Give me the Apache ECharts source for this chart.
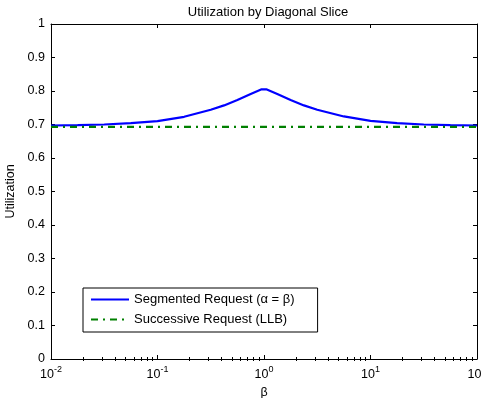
<!DOCTYPE html>
<html>
<head>
<meta charset="utf-8">
<script src="https://cdn.jsdelivr.net/npm/echarts@6/dist/echarts.min.js"></script>
<style>
html,body{margin:0;padding:0;background:#fff;}
#chart{width:482px;height:398px;}
</style>
</head>
<body>
<div id="chart"></div>
<script>
// ---- data ----
const titleText = 'Utilization by Diagonal Slice';
const xName = 'β';
const yName = 'Utilization';
const seriesNames = ['Segmented Request (α = β)', 'Successive Request (LLB)'];
const beta = [0.01, 0.0178, 0.0316, 0.0562, 0.1, 0.1778, 0.3162, 0.4217, 0.5623, 0.75, 0.95,
              1.05, 1.333, 1.778, 2.371, 3.162, 5.623, 10, 17.78, 31.62, 56.23, 100];
const segmented = [0.697, 0.698, 0.700, 0.704, 0.710, 0.723, 0.744, 0.757, 0.773, 0.791, 0.805,
                   0.805, 0.791, 0.773, 0.757, 0.744, 0.724, 0.711, 0.704, 0.700, 0.698, 0.697];
const llbBeta = [0.01, 100];
const llb = [0.6931, 0.6931];
const xMajorTicks = [0.01, 0.1, 1, 10, 100];
const xMinorTicks = [0.02,0.03,0.04,0.05,0.06,0.07,0.08,0.09,
                     0.2,0.3,0.4,0.5,0.6,0.7,0.8,0.9,
                     2,3,4,5,6,7,8,9,
                     20,30,40,50,60,70,80,90];

// ---- chart ----
const chart = echarts.init(document.getElementById('chart'), null, {renderer:'canvas'});
const font = 'Liberation Sans, Arial, Helvetica, sans-serif';
const black = '#000';

function logAxis(pos, opts) {
  return Object.assign({
    type: 'log', logBase: 10, min: 0.01, max: 100, position: pos, gridIndex: 0,
    splitLine: {show: false}, minorTick: {show: false}, minorSplitLine: {show: false},
    axisLine: {show: true, onZero: false, lineStyle: {color: black, width: 1}},
    axisTick: {show: true, inside: true, length: 4, customValues: xMajorTicks, lineStyle: {color: black}},
    axisLabel: {show: false}
  }, opts);
}

const option = {
  backgroundColor: '#fff',
  animation: false,
  title: {
    text: titleText, left: 263, top: 1, textAlign: 'center',
    textStyle: {fontFamily: font, fontSize: 13, fontWeight: 'normal', color: black}
  },
  grid: {left: 51, right: 5, top: 24, bottom: 39, containLabel: false, outerBoundsMode: 'none'},
  legend: {
    orient: 'vertical', left: 83, top: 288,
    data: seriesNames,
    backgroundColor: '#fff', borderColor: black, borderWidth: 1, borderRadius: 0,
    padding: [5, 23, 6, 7], itemGap: 7, itemWidth: 38, itemHeight: 12,
    textStyle: {fontFamily: font, fontSize: 13, color: black},
    itemStyle: {color: 'rgba(0,0,0,0)', opacity: 0, borderWidth: 0},
    selectedMode: false
  },
  xAxis: [
    logAxis('bottom', {
      name: xName, nameLocation: 'middle', nameGap: 22,
      nameTextStyle: {fontFamily: font, fontSize: 12.5, color: black},
      axisLabel: {
        show: true, customValues: xMajorTicks, margin: 6,
        formatter: function (v) {
          const e = Math.round(Math.log10(v));
          return '{b|10}{s|' + e + '}';
        },
        rich: {
          b: {fontFamily: font, fontSize: 12.5, color: black, verticalAlign: 'bottom'},
          s: {fontFamily: font, fontSize: 9, color: black, verticalAlign: 'bottom', padding: [0, 0, 7, 0]}
        }
      }
    }),
    logAxis('bottom', {axisLine: {show: false}, axisTick: {show: true, inside: true, length: 2, customValues: xMinorTicks, lineStyle: {color: black}}}),
    logAxis('top', {}),
    logAxis('top', {axisLine: {show: false}, axisTick: {show: true, inside: true, length: 2, customValues: xMinorTicks, lineStyle: {color: black}}})
  ],
  yAxis: [
    {
      type: 'value', min: 0, max: 1, interval: 0.1, position: 'left',
      name: yName, nameLocation: 'middle', nameGap: 29,
      nameTextStyle: {fontFamily: font, fontSize: 12.5, color: black},
      splitLine: {show: false},
      axisLine: {show: true, onZero: false, lineStyle: {color: black, width: 1}},
      axisTick: {show: true, inside: true, length: 4, lineStyle: {color: black}},
      axisLabel: {fontFamily: font, fontSize: 12.5, color: black, margin: 6,
        formatter: function (v) { return (v === 0 || v === 1) ? String(v) : v.toFixed(1); }}
    },
    {
      type: 'value', min: 0, max: 1, interval: 0.1, position: 'right',
      splitLine: {show: false},
      axisLine: {show: true, onZero: false, lineStyle: {color: black, width: 1}},
      axisTick: {show: true, inside: true, length: 4, lineStyle: {color: black}},
      axisLabel: {show: false}
    }
  ],
  series: [
    {
      name: seriesNames[0], type: 'line', xAxisIndex: 0, yAxisIndex: 0,
      data: beta.map((b, i) => [b, segmented[i]]),
      symbol: 'none', smooth: false,
      lineStyle: {color: '#0000ff', width: 2.2},
      itemStyle: {color: '#0000ff'}
    },
    {
      name: seriesNames[1], type: 'line', xAxisIndex: 0, yAxisIndex: 0,
      data: llbBeta.map((b, i) => [b, llb[i]]),
      symbol: 'none',
      lineStyle: {color: '#008000', width: 2.2, type: [7, 5, 2, 5]},
      itemStyle: {color: '#008000'}
    }
  ]
};
chart.setOption(option);
</script>
</body>
</html>
